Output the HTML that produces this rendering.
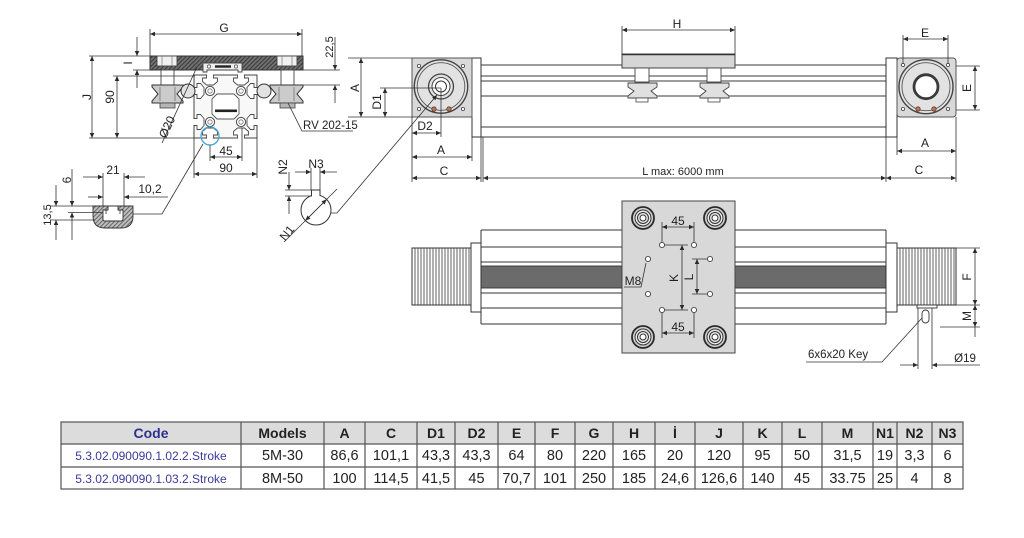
<!DOCTYPE html>
<html><head><meta charset="utf-8">
<style>
html,body{margin:0;padding:0;background:#fff;}
svg{display:block;}
text{font-family:"Liberation Sans",Arial,sans-serif;fill:#222;}
</style></head><body>
<svg width="1024" height="538" viewBox="0 0 1024 538" xmlns="http://www.w3.org/2000/svg">
<defs>
<marker id="ar" viewBox="0 0 10 10" refX="10" refY="5" markerWidth="6" markerHeight="5" markerUnits="userSpaceOnUse" orient="auto-start-reverse"><path d="M0,0.5 L10,5 L0,9.5 Z" fill="#2a2a2a"/></marker>
<pattern id="hp" width="3" height="3" patternUnits="userSpaceOnUse" patternTransform="rotate(45)"><rect width="3" height="3" fill="#727272"/><rect width="1.1" height="3" fill="#3a3a3a"/></pattern>
<pattern id="hs" width="3" height="3" patternUnits="userSpaceOnUse" patternTransform="rotate(45)"><rect width="3" height="3" fill="#bdbdbd"/><rect width="1" height="3" fill="#666"/></pattern>
<g id="slotT"><path d="M-3.5,74.4 V78 H-7.5 V81.5 L-3.5,85 H3.5 L7.5,81.5 V78 H3.5 V74.4" fill="#fff" stroke="#4a4a4a" stroke-width="0.9"/></g>
<g id="bore"><circle r="4.6" fill="#fff" stroke="#4a4a4a" stroke-width="1"/><circle r="2.2" fill="none" stroke="#777" stroke-width="0.8"/></g>
<g id="cw"><circle r="11" fill="#cfcfcf" stroke="#2a2a2a" stroke-width="1.8"/><circle r="8" fill="#e8e8e8" stroke="#333" stroke-width="1"/><circle r="5.5" fill="none" stroke="#333" stroke-width="1"/><circle r="3" fill="#fff" stroke="#333" stroke-width="1"/></g>
<g id="hole"><circle r="2.6" fill="#fff" stroke="#444" stroke-width="0.9"/></g>
</defs>

<!-- ============ CROSS SECTION ============ -->
<rect x="150" y="56" width="153" height="14" fill="url(#hp)" stroke="#333" stroke-width="1"/>
<rect x="157" y="56" width="20" height="10" fill="#f0f0f0" stroke="#444" stroke-width="0.9"/>
<path d="M162,56 V66 M172,56 V66" stroke="#777" stroke-width="0.7"/>
<rect x="277" y="56" width="20" height="10" fill="#f0f0f0" stroke="#444" stroke-width="0.9"/>
<path d="M282,56 V66 M292,56 V66" stroke="#777" stroke-width="0.7"/>
<path d="M203,63 H242 V72 H238 V70 H207 V72 H203 Z" fill="#eee" stroke="#444" stroke-width="0.9"/>
<circle cx="209" cy="66.5" r="1.6" fill="#fff" stroke="#444" stroke-width="0.7"/>
<circle cx="236" cy="66.5" r="1.6" fill="#fff" stroke="#444" stroke-width="0.7"/>
<rect x="215" y="65.3" width="16" height="2.4" fill="#222"/>
<rect x="161" y="70" width="13" height="15" fill="#fff" stroke="#444" stroke-width="0.9"/>
<rect x="281" y="70" width="13" height="15" fill="#fff" stroke="#444" stroke-width="0.9"/>
<path d="M152,85 H183 V87 L177,94 L183,101 V103 H152 V101 L158,94 L152,87 Z" fill="#cbcbcb" stroke="#333" stroke-width="1"/>
<path d="M160,87 V101 M175,87 V101" stroke="#666" stroke-width="0.7"/>
<path d="M270,85 H303 V87 L297,94 L303,101 V103 H270 V101 L276,94 L270,87 Z" fill="#cbcbcb" stroke="#333" stroke-width="1"/>
<path d="M279,87 V101 M294,87 V101" stroke="#666" stroke-width="0.7"/>
<rect x="160" y="103" width="15" height="5" fill="#b5b5b5" stroke="#444" stroke-width="0.8"/>
<rect x="280" y="103" width="15" height="5" fill="#b5b5b5" stroke="#444" stroke-width="0.8"/>
<rect x="194" y="75" width="63" height="63" fill="#f8f8f8" stroke="#444" stroke-width="1"/>
<use href="#slotT" transform="translate(210,0)"/>
<use href="#slotT" transform="translate(241,0)"/>
<use href="#slotT" transform="rotate(90 225.5 106.5) translate(210,0)"/>
<use href="#slotT" transform="rotate(90 225.5 106.5) translate(241,0)"/>
<use href="#slotT" transform="rotate(180 225.5 106.5) translate(210,0)"/>
<use href="#slotT" transform="rotate(180 225.5 106.5) translate(241,0)"/>
<use href="#slotT" transform="rotate(270 225.5 106.5) translate(210,0)"/>
<use href="#slotT" transform="rotate(270 225.5 106.5) translate(241,0)"/>
<path d="M217,94 H234 L239,99 V114 L234,119 H217 L212,114 V99 Z" fill="#fff" stroke="#555" stroke-width="0.9"/>
<use href="#bore" x="210" y="91"/>
<use href="#bore" x="241" y="91"/>
<use href="#bore" x="210" y="122"/>
<use href="#bore" x="241" y="122"/>
<rect x="215" y="109.5" width="22" height="2.6" fill="#222"/>
<circle cx="188" cy="91" r="7" fill="#e2e2e2" stroke="#333" stroke-width="1"/>
<circle cx="264" cy="91" r="7" fill="#e2e2e2" stroke="#333" stroke-width="1"/>
<circle cx="210" cy="136" r="9" fill="none" stroke="#4aa3d6" stroke-width="1.3"/>

<path fill-rule="evenodd" d="M93,206 H133 V216 Q133,228 121,228 H105 Q93,228 93,216 Z M108,206 H118 V210 H123 V219 Q123,221 121,221 H105 Q103,221 103,219 V210 H108 Z" fill="url(#hs)" stroke="#333" stroke-width="0.9"/>
<path d="M106,210 V214 M120,210 V214" stroke="#333" stroke-width="0.8"/>

<circle cx="316" cy="210" r="15" fill="#fff" stroke="#333" stroke-width="1"/>
<rect x="312" y="193.5" width="7.5" height="3.5" fill="#fff"/>
<path d="M311.5,196 V190 H320 V196" fill="none" stroke="#333" stroke-width="1"/>

<!-- ============ TOP VIEW ============ -->
<g stroke="#3a3a3a" stroke-width="1" fill="none">
<path d="M481,65 H886 M481,76 H886 M481,81 H886 M481,96 H886 M481,127 H886 M472,137 H897"/>
</g>
<rect x="472" y="58" width="9" height="79" fill="#fff" stroke="#333" stroke-width="1"/>
<rect x="886" y="58" width="11" height="79" fill="#fff" stroke="#333" stroke-width="1"/>
<rect x="412" y="58" width="60" height="59" fill="#d9d9d9" stroke="#555" stroke-width="1"/>
<circle cx="441" cy="86.5" r="26.7" fill="#e2e2e2" stroke="#444" stroke-width="1.4"/>
<circle cx="441" cy="86.5" r="23.8" fill="none" stroke="#555" stroke-width="0.9"/>
<circle cx="441" cy="86.5" r="12.5" fill="#e2e2e2" stroke="#444" stroke-width="1.3"/>
<circle cx="441" cy="86.5" r="9" fill="#fff" stroke="#444" stroke-width="1"/>
<circle cx="441" cy="86.5" r="5.5" fill="#fff" stroke="#333" stroke-width="1"/>
<circle cx="419" cy="66" r="1.6" fill="#fff" stroke="#444" stroke-width="0.8"/>
<circle cx="463" cy="66" r="1.6" fill="#fff" stroke="#444" stroke-width="0.8"/>
<circle cx="419" cy="109" r="1.6" fill="#fff" stroke="#444" stroke-width="0.8"/>
<circle cx="463" cy="109" r="1.6" fill="#fff" stroke="#444" stroke-width="0.8"/>
<circle cx="434" cy="109" r="2.2" fill="#b07a5e" stroke="#6a3a2a" stroke-width="0.8"/>
<circle cx="449" cy="109" r="2.2" fill="#b07a5e" stroke="#6a3a2a" stroke-width="0.8"/>
<rect x="897" y="58" width="59" height="59" rx="3" fill="#d9d9d9" stroke="#555" stroke-width="1"/>
<circle cx="926" cy="86.7" r="27" fill="#e2e2e2" stroke="#444" stroke-width="1.4"/>
<circle cx="926" cy="86.7" r="24" fill="none" stroke="#555" stroke-width="0.9"/>
<circle cx="926" cy="86.7" r="12" fill="#fff" stroke="#3a3a3a" stroke-width="2.8"/>
<circle cx="903" cy="65" r="1.6" fill="#fff" stroke="#444" stroke-width="0.8"/>
<circle cx="948" cy="65" r="1.6" fill="#fff" stroke="#444" stroke-width="0.8"/>
<circle cx="903" cy="109" r="1.6" fill="#fff" stroke="#444" stroke-width="0.8"/>
<circle cx="948" cy="109" r="1.6" fill="#fff" stroke="#444" stroke-width="0.8"/>
<circle cx="918" cy="109" r="2.2" fill="#b07a5e" stroke="#6a3a2a" stroke-width="0.8"/>
<circle cx="934" cy="109" r="2.2" fill="#b07a5e" stroke="#6a3a2a" stroke-width="0.8"/>
<rect x="622" y="54" width="113" height="14" fill="#d6d6d6" stroke="#444" stroke-width="1"/>
<path d="M622,54.6 H735" stroke="#333" stroke-width="1.4"/>
<rect x="635" y="68" width="14" height="14" fill="#fff" stroke="#444" stroke-width="0.9"/>
<rect x="707" y="68" width="14" height="14" fill="#fff" stroke="#444" stroke-width="0.9"/>
<path d="M628,83 H657 V87 L651,91 L657,96 V98 H628 V96 L634,91 L628,87 Z" fill="#e0e0e0" stroke="#444" stroke-width="0.9"/>
<path d="M700,83 H729 V87 L723,91 L729,96 V98 H700 V96 L706,91 L700,87 Z" fill="#e0e0e0" stroke="#444" stroke-width="0.9"/>
<rect x="636" y="98" width="12" height="4" fill="#fff" stroke="#444" stroke-width="0.8"/>
<rect x="708" y="98" width="12" height="4" fill="#fff" stroke="#444" stroke-width="0.8"/>

<!-- ============ BOTTOM VIEW ============ -->
<g stroke="#333" stroke-width="1" fill="none">
<path d="M481,230 H886 M481,247 H886 M481,262 H886 M481,293 H886 M481,308 H886 M481,324 H886 M481,230 V324 M886,230 V324"/>
</g>
<rect x="481" y="266" width="405" height="22" fill="#6b6b6b" stroke="#333" stroke-width="0.9"/>
<rect x="471" y="243" width="10" height="69" fill="#fff" stroke="#333" stroke-width="1"/>
<rect x="886" y="243" width="11" height="69" fill="#fff" stroke="#333" stroke-width="1"/>
<rect x="412" y="248" width="59" height="57" fill="#fff" stroke="#333" stroke-width="1"/>
<rect x="897" y="248" width="59" height="57" fill="#fff" stroke="#333" stroke-width="1"/>
<path stroke="#3a3a3a" stroke-width="0.8" d="M415,248V305M418,248V305M421,248V305M424,248V305M427,248V305M430,248V305M433,248V305M436,248V305M439,248V305M442,248V305M445,248V305M448,248V305M451,248V305M454,248V305M457,248V305M460,248V305M463,248V305M466,248V305M469,248V305
M900,248V305M903,248V305M906,248V305M909,248V305M912,248V305M915,248V305M918,248V305M921,248V305M924,248V305M927,248V305M930,248V305M933,248V305M936,248V305M939,248V305M942,248V305M945,248V305M948,248V305M951,248V305M954,248V305"/>
<rect x="917" y="305" width="20" height="3" fill="#fff" stroke="#333" stroke-width="0.9"/>
<rect x="922" y="310" width="7" height="13" rx="3.5" fill="#fff" stroke="#333" stroke-width="0.9"/>
<rect x="622" y="201" width="113" height="152" fill="#d8d8d8" stroke="#444" stroke-width="1"/>
<use href="#cw" x="643" y="218"/>
<use href="#cw" x="715" y="218"/>
<use href="#cw" x="643" y="337"/>
<use href="#cw" x="715" y="337"/>
<use href="#hole" x="662" y="245"/>
<use href="#hole" x="694" y="245"/>
<use href="#hole" x="662" y="310"/>
<use href="#hole" x="694" y="310"/>
<use href="#hole" x="648" y="259"/>
<use href="#hole" x="648" y="294"/>
<use href="#hole" x="710" y="259"/>
<use href="#hole" x="710" y="294"/>

<!-- ============ DIMENSIONS ============ -->
<g stroke="#333" stroke-width="0.8" fill="none">
<path d="M150,34 H302" marker-start="url(#ar)" marker-end="url(#ar)"/>
<path d="M150,29 V56 M302,29 V56"/>
<path d="M137,37 V56" marker-end="url(#ar)"/>
<path d="M137,88 V70" marker-end="url(#ar)"/>
<path d="M89,56 H150 M133,70 H150"/>
<path d="M92,56 V138" marker-start="url(#ar)" marker-end="url(#ar)"/>
<path d="M117,76 V138" marker-start="url(#ar)" marker-end="url(#ar)"/>
<path d="M113,76 H195 M89,138 H194"/>
<path d="M162,143 L197,67"/>
<path d="M335,37 V70" marker-end="url(#ar)"/>
<path d="M335,103 V85" marker-end="url(#ar)"/>
<path d="M303,70 H340 M303,85 H340"/>
<path d="M361,58 V117" marker-start="url(#ar)" marker-end="url(#ar)"/>
<path d="M348,58 H412 M348,117 H412"/>
<path d="M288,103 L302,131 H353"/>
<path d="M210,157 H242" marker-start="url(#ar)" marker-end="url(#ar)"/>
<path d="M210,145 V161 M242,128 V161"/>
<path d="M194,174 H257" marker-start="url(#ar)" marker-end="url(#ar)"/>
<path d="M194,138 V178 M257,138 V178"/>
<path d="M83,177 H103" marker-end="url(#ar)"/>
<path d="M145,177 H124" marker-end="url(#ar)"/>
<path d="M103,173 V206 M124,173 V206"/>
<path d="M88,197 H103" marker-end="url(#ar)"/>
<path d="M168,197 H124" marker-end="url(#ar)"/>
<path d="M72,169 V206" marker-end="url(#ar)"/>
<path d="M72,240 V212.5" marker-end="url(#ar)"/>
<path d="M56,185 V206" marker-end="url(#ar)"/>
<path d="M56,240 V220" marker-end="url(#ar)"/>
<path d="M50,206 H93 M68,212.5 H103 M50,220 H95"/>
<path d="M203,144 L162,214 H133"/>
<path d="M295,172 H311" marker-end="url(#ar)"/>
<path d="M337,172 H320" marker-end="url(#ar)"/>
<path d="M311,168 V190 M320,168 V190"/>
<path d="M289,172 V190" marker-end="url(#ar)"/>
<path d="M289,214 V196" marker-end="url(#ar)"/>
<path d="M285,190 H311 M285,196 H312"/>
<path d="M284,242 L337,189"/>
<path d="M316,210 L305.4,220.6" marker-end="url(#ar)"/>
<path d="M316,210 L326.6,199.4" marker-end="url(#ar)"/>
<path d="M331,213 H337 L437,95" marker-end="url(#ar)"/>
<path d="M385,88 V117" marker-start="url(#ar)" marker-end="url(#ar)"/>
<path d="M380,88 H441"/>
<path d="M412,133 H441" marker-start="url(#ar)" marker-end="url(#ar)"/>
<path d="M441,88 V137"/>
<path d="M412,157 H472" marker-start="url(#ar)" marker-end="url(#ar)"/>
<path d="M412,178 H481" marker-start="url(#ar)" marker-end="url(#ar)"/>
<path d="M483,178 H886" marker-start="url(#ar)" marker-end="url(#ar)"/>
<path d="M412,117 V182 M472,137 V161 M481,137 V182 M483,137 V182"/>
<path d="M622,30 H735" marker-start="url(#ar)" marker-end="url(#ar)"/>
<path d="M622,26 V54 M735,26 V54"/>
<path d="M903,39 H948" marker-start="url(#ar)" marker-end="url(#ar)"/>
<path d="M903,35 V64 M948,35 V64"/>
<path d="M975,66 V110" marker-start="url(#ar)" marker-end="url(#ar)"/>
<path d="M956,66 H980 M956,110 H980"/>
<path d="M897,151 H956" marker-start="url(#ar)" marker-end="url(#ar)"/>
<path d="M886,178 H956" marker-start="url(#ar)" marker-end="url(#ar)"/>
<path d="M886,137 V182 M897,117 V155 M956,117 V182"/>
<path d="M662,227 H694" marker-start="url(#ar)" marker-end="url(#ar)"/>
<path d="M662,222 V242.5 M694,222 V242.5"/>
<path d="M662,333 H694" marker-start="url(#ar)" marker-end="url(#ar)"/>
<path d="M662,312.5 V338 M694,312.5 V338"/>
<path d="M682,245 V310" marker-start="url(#ar)" marker-end="url(#ar)"/>
<path d="M664.5,245 H688 M664.5,310 H688"/>
<path d="M697,259 V294" marker-start="url(#ar)" marker-end="url(#ar)"/>
<path d="M692,259 H707.5 M692,294 H707.5"/>
<path d="M624,287 H641 L646,263"/>
<path d="M975,248 V305" marker-start="url(#ar)" marker-end="url(#ar)"/>
<path d="M975,305 V327" marker-start="url(#ar)" marker-end="url(#ar)"/>
<path d="M975,327 V337"/>
<path d="M956,248 H980 M937,305 H980 M940,327 H980"/>
<path d="M900,365 H918" marker-end="url(#ar)"/>
<path d="M980,365 H932" marker-end="url(#ar)"/>
<path d="M918,308 V369 M932,308 V369"/>
<path d="M806,362 H882 L922,318"/>
</g>

<!-- ============ LABELS ============ -->
<g font-size="12" text-anchor="middle">
<text x="224" y="32">G</text>
<text transform="translate(128,63) rotate(-90)" dy="4">I</text>
<text transform="translate(87,97) rotate(-90)" dy="4">J</text>
<text transform="translate(110,97) rotate(-90)" dy="4">90</text>
<text transform="translate(167,127) rotate(-65)" dy="4">Ø20</text>
<text transform="translate(329,47) rotate(-90)" dy="4" font-size="11">22,5</text>
<text transform="translate(355,88) rotate(-90)" dy="4">A</text>
<text x="226" y="155">45</text>
<text x="226" y="172">90</text>
<text x="113" y="174">21</text>
<text x="150" y="193">10,2</text>
<text transform="translate(67,180) rotate(-90)" dy="4">6</text>
<text transform="translate(47,215) rotate(-90)" dy="4" font-size="11">13,5</text>
<text x="316" y="168">N3</text>
<text transform="translate(283,167) rotate(-90)" dy="4">N2</text>
<text transform="translate(287,233) rotate(-50)" dy="4">N1</text>
<text transform="translate(377,102) rotate(-90)" dy="4">D1</text>
<text x="425" y="130">D2</text>
<text x="441" y="154">A</text>
<text x="444" y="175">C</text>
<text x="677" y="28">H</text>
<text x="925" y="37">E</text>
<text transform="translate(967,88) rotate(-90)" dy="4">E</text>
<text x="925" y="147">A</text>
<text x="919" y="174">C</text>
<text x="678" y="225">45</text>
<text x="678" y="331">45</text>
<text transform="translate(674,278) rotate(-90)" dy="4">K</text>
<text transform="translate(689,277) rotate(-90)" dy="4">L</text>
<text x="633" y="285">M8</text>
<text transform="translate(967,277) rotate(-90)" dy="4">F</text>
<text transform="translate(967,316) rotate(-90)" dy="4">M</text>
<text x="965" y="362" font-size="11.5">Ø19</text>
<text x="683" y="175" font-size="11">L max: 6000 mm</text>
</g>
<text x="303" y="129" font-size="11.5">RV 202-15</text>
<text x="808" y="358" font-size="11.5">6x6x20 Key</text>

<!-- ============ TABLE ============ -->
<rect x="61" y="422" width="902" height="22" fill="#dcdcdc"/>
<g stroke="#555" stroke-width="1.2" fill="none">
<rect x="61" y="422" width="902" height="67"/>
<path d="M61,444 H963 M61,467 H963"/>
<path d="M241,422V489M324,422V489M365,422V489M417,422V489M455,422V489M498,422V489M535,422V489M575,422V489M613,422V489M655,422V489M695,422V489M743,422V489M782,422V489M822,422V489M873,422V489M897,422V489M932,422V489"/>
</g>
<g font-size="14" font-weight="bold" text-anchor="middle">
<text x="151" y="438" style="fill:#2f2f8f">Code</text>
<text x="282.5" y="438">Models</text>
<text x="344.5" y="438">A</text>
<text x="391" y="438">C</text>
<text x="436" y="438">D1</text>
<text x="476.5" y="438">D2</text>
<text x="516.5" y="438">E</text>
<text x="555" y="438">F</text>
<text x="594" y="438">G</text>
<text x="634" y="438">H</text>
<text x="675" y="438">İ</text>
<text x="719" y="438">J</text>
<text x="762.5" y="438">K</text>
<text x="802" y="438">L</text>
<text x="847.5" y="438">M</text>
<text x="885" y="438">N1</text>
<text x="914.5" y="438">N2</text>
<text x="947.5" y="438">N3</text>
</g>
<g font-size="12" text-anchor="middle">
<text x="151" y="460" style="fill:#3a3a9c">5.3.02.090090.1.02.2.Stroke</text>
<text x="151" y="483" style="fill:#3a3a9c">5.3.02.090090.1.03.2.Stroke</text>
</g>
<g font-size="14.5" text-anchor="middle">
<text x="282.5" y="460">5M-30</text>
<text x="344.5" y="460">86,6</text>
<text x="391" y="460">101,1</text>
<text x="436" y="460">43,3</text>
<text x="476.5" y="460">43,3</text>
<text x="516.5" y="460">64</text>
<text x="555" y="460">80</text>
<text x="594" y="460">220</text>
<text x="634" y="460">165</text>
<text x="675" y="460">20</text>
<text x="719" y="460">120</text>
<text x="762.5" y="460">95</text>
<text x="802" y="460">50</text>
<text x="847.5" y="460">31,5</text>
<text x="885" y="460">19</text>
<text x="914.5" y="460">3,3</text>
<text x="947.5" y="460">6</text>
<text x="282.5" y="483">8M-50</text>
<text x="344.5" y="483">100</text>
<text x="391" y="483">114,5</text>
<text x="436" y="483">41,5</text>
<text x="476.5" y="483">45</text>
<text x="516.5" y="483">70,7</text>
<text x="555" y="483">101</text>
<text x="594" y="483">250</text>
<text x="634" y="483">185</text>
<text x="675" y="483">24,6</text>
<text x="719" y="483">126,6</text>
<text x="762.5" y="483">140</text>
<text x="802" y="483">45</text>
<text x="847.5" y="483">33.75</text>
<text x="885" y="483">25</text>
<text x="914.5" y="483">4</text>
<text x="947.5" y="483">8</text>
</g>
</svg>
</body></html>
